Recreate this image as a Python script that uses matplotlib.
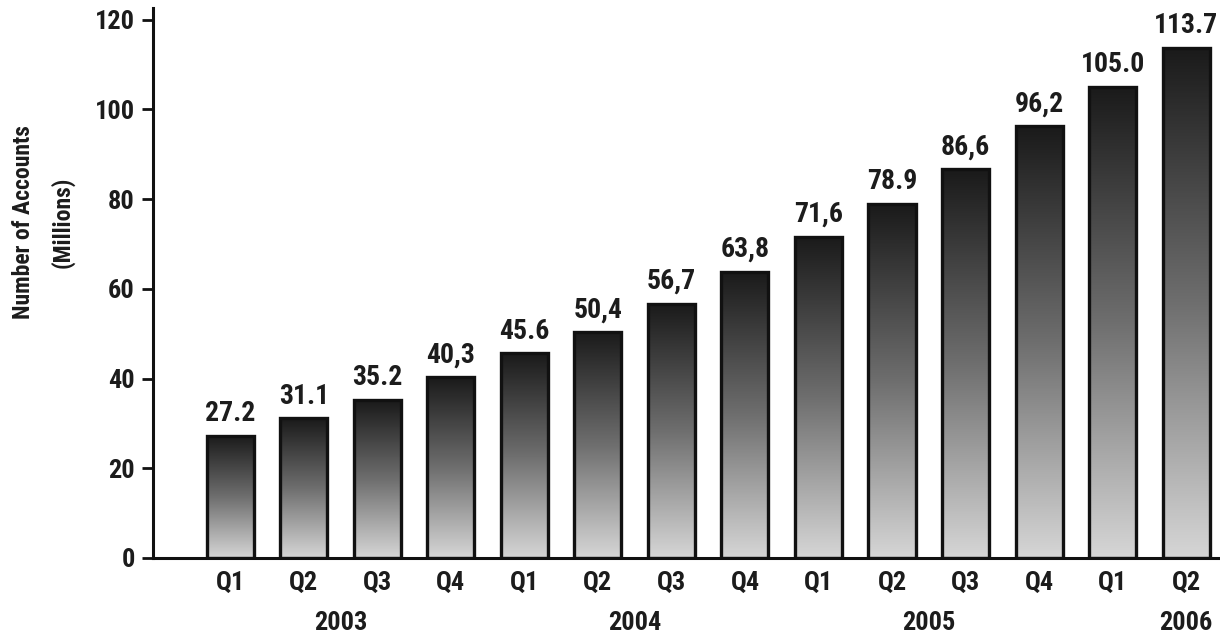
import matplotlib
matplotlib.use("Agg")
import matplotlib.pyplot as plt
import numpy as np
from matplotlib.colors import LinearSegmentedColormap

plt.rcParams['font.family'] = ['Roboto Condensed', 'DejaVu Sans']

# data
quarters = ['Q1', 'Q2', 'Q3', 'Q4', 'Q1', 'Q2', 'Q3', 'Q4', 'Q1', 'Q2', 'Q3', 'Q4', 'Q1', 'Q2']
accounts = [27.2, 31.1, 35.2, 40.3, 45.6, 50.4, 56.7, 63.8, 71.6, 78.9, 86.6, 96.2, 105.0, 113.7]
value_labels = ['27.2', '31.1', '35.2', '40,3', '45.6', '50,4', '56,7', '63,8',
                '71,6', '78.9', '86,6', '96,2', '105.0', '113.7']
years = ['2003', '2004', '2005', '2006']
year_pos = [1.5, 5.5, 9.5, 13]

TXT = '#1c1c1c'

fig = plt.figure(figsize=(12.2, 6.39), dpi=100)
ax = fig.add_axes([0.1254, 0.1268, 0.8746, 0.8607])

# grey gradient, dark on top, light at the base (each bar gets the full ramp)
cmap = LinearSegmentedColormap.from_list('bar_grad', [(0, '#d6d6d6'), (0.5, '#6e6e6e'), (1, '#1a1a1a')])
grad = np.linspace(0, 1, 256).reshape(-1, 1)
w = 0.64
x = np.arange(len(accounts))

for i, h in enumerate(accounts):
    ax.imshow(grad, extent=[x[i] - w/2, x[i] + w/2, 0, h], origin='lower',
              aspect='auto', cmap=cmap, zorder=2)
    ax.annotate(value_labels[i], (x[i], h), xytext=(0, 16), textcoords='offset points',
                ha='center', va='center', fontsize=20, fontweight='bold', color=TXT)

ax.bar(x, accounts, width=w, facecolor='none', edgecolor='#111111', linewidth=2.4, zorder=3)

ax.set_xlim(-1.05, 13.46)
ax.set_ylim(0, 122.6)
ax.set_yticks(range(0, 121, 20))
ax.set_xticks(x)
ax.set_xticklabels(quarters)

for s in ['top', 'right']:
    ax.spines[s].set_visible(False)
for s in ['left', 'bottom']:
    ax.spines[s].set_linewidth(2.2)
    ax.spines[s].set_color('#111111')

ax.tick_params(axis='y', length=8, width=2, pad=5, labelsize=19, colors='#111111')
ax.tick_params(axis='x', length=0, pad=9, labelsize=19)
for lab in ax.get_xticklabels() + ax.get_yticklabels():
    lab.set_fontweight('bold')
    lab.set_color(TXT)

for yr, p in zip(years, year_pos):
    ax.text(p, -0.118, yr, transform=ax.get_xaxis_transform(), ha='center', va='center',
            fontsize=19, fontweight='bold', color=TXT)

fig.text(24/1220, 1 - 222/639, 'Number of Accounts', rotation=90,
         ha='center', va='center', fontsize=17, fontweight='bold', color=TXT)
fig.text(62/1220, 1 - 222/639, '(Millions)', rotation=90,
         ha='center', va='center', fontsize=17, fontweight='bold', color=TXT)

fig.savefig('out.png', dpi=100)
